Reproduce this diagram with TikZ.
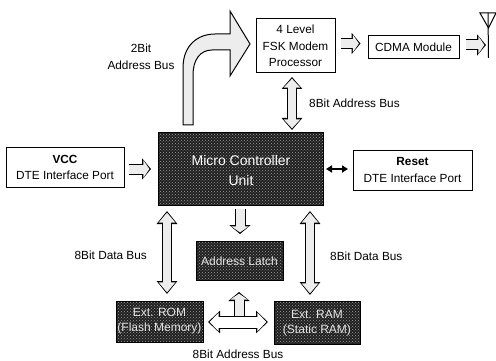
\documentclass[tikz,border=0pt]{standalone}
\usepackage{fontspec}
\setmainfont{Liberation Sans}
\usetikzlibrary{arrows.meta,calc,patterns}
\definecolor{darkbox}{gray}{0.12}
\definecolor{darkdots}{gray}{0.62}
\definecolor{darktext}{gray}{0.9}
\definecolor{arrowfill}{gray}{0.93}
\tikzset{
  x=1pt,y=-1pt,
  lightbox/.style={draw=black,line width=1pt,fill=white,align=center,inner sep=0pt,font=\fontsize{11.8}{16.5}\selectfont},
  darkblock/.style={draw=black,line width=1pt,preaction={fill=darkbox},pattern=crosshatch dots,pattern color=darkdots,align=center,inner sep=0pt},
  darklabel/.style={text=darktext,align=center,inner sep=0pt,font=\fontsize{12}{15}\selectfont},
  lab/.style={align=center,inner sep=0pt,font=\fontsize{11.8}{17}\selectfont},
  blockwide/.style={line cap=butt,line join=round,
    -{Triangle[length=9pt,width=21pt]},draw=black,line width=11pt,
    postaction={draw=arrowfill,line width=9pt,shorten >=1.6pt,-{Triangle[length=6pt,width=17pt]}}},
  blocktwo/.style 2 args={line cap=butt,
    {Triangle[length=#1,width=20pt]}-{Triangle[length=#1,width=20pt]},draw=black,line width=10pt,
    postaction={draw=arrowfill,line width=8pt,shorten >=1.6pt,shorten <=1.6pt,
    {Triangle[length=#2,width=16pt]}-{Triangle[length=#2,width=16pt]}}},
  blockflat/.style={line cap=butt,
    {Triangle[length=12pt,width=22pt]}-{Triangle[length=12pt,width=22pt]},draw=black,line width=13pt,
    postaction={draw=white,line width=11pt,shorten >=1.6pt,shorten <=1.6pt,
    {Triangle[length=9pt,width=18pt]}-{Triangle[length=9pt,width=18pt]}}},
  smallarrow/.style={{Triangle[length=6pt,width=7pt]}-{Triangle[length=6pt,width=7pt]},line width=1.6pt,draw=black},
  antenna/.style={draw=black,line width=1pt},
  bentarrow/.style={draw=black,line width=1pt,line join=miter,fill=arrowfill},
}
\begin{document}
\begin{tikzpicture}
\useasboundingbox (0,0) rectangle (496,361);
% boxes
\node[lightbox,minimum width=118pt,minimum height=40pt] (vcc) at (65,167.5) {\textbf{VCC}\\DTE Interface Port};
\node[lightbox,minimum width=119pt,minimum height=40pt] (reset) at (412.5,170) {\textbf{Reset}\\DTE Interface Port};
\node[lightbox,minimum width=79pt,minimum height=54pt] (modem) at (295.5,46) {4 Level\\FSK Modem\\Processor};
\node[lightbox,minimum width=91pt,minimum height=23pt] (cdma) at (413.5,47.5) {CDMA Module};
\node[darkblock,minimum width=165pt,minimum height=72pt] (mcu) at (240.5,169) {};
\node[darklabel,text=white,font=\fontsize{14}{20}\selectfont] (mcut) at (241,170) {Micro Controller\\Unit};
\node[darkblock,minimum width=87pt,minimum height=39pt] (latch) at (239.5,261) {};
\node[darklabel] (latcht) at (239.5,261.5) {Address Latch};
\node[darkblock,minimum width=87pt,minimum height=41pt] (rom) at (159.5,321.5) {};
\node[darklabel] (romt) at (159.5,321.5) {Ext. ROM\\(Flash Memory)};
\node[darkblock,minimum width=86pt,minimum height=43pt] (ram) at (317,323) {};
\node[darklabel] (ramt) at (317,323) {Ext. RAM\\(Static RAM)};
% labels
\node[lab] (l2bit) at (141,56.5) {2Bit\\Address Bus};
\node[lab,anchor=west] (l8a) at (309,103) {8Bit Address Bus};
\node[lab,anchor=east] (l8l) at (147,255) {8Bit Data Bus};
\node[lab,anchor=west] (l8r) at (330,256) {8Bit Data Bus};
\node[lab] (l8b) at (238,354) {8Bit Address Bus};
% free ends of connectors
\coordinate (v1) at (129,169);
\coordinate (v2) at (151,169);
\coordinate (m1) at ($(modem.east)+(5,-2.5)$);
\coordinate (c1) at ($(cdma.west)+(-7,-4)$);
\coordinate (c2) at ($(cdma.east)+(6,-2.5)$);
\coordinate (c3) at (486,45);
\coordinate (mm1) at (292,77);
\coordinate (mm2) at (292,130);
\coordinate (l1) at (240,209);
\coordinate (l2) at (240,234);
\coordinate (r1) at (167,211);
\coordinate (r2) at (167,294);
\coordinate (s1) at (310,211);
\coordinate (s2) at (310,295);
\coordinate (b1) at (208,322);
\coordinate (b2) at (268,322);
\coordinate (u1) at (239,317);
\coordinate (u2) at (239,292);
\coordinate (sa1) at (326,169);
\coordinate (sa2) at (348,169);
% antenna
\coordinate (t1) at (480,13);
\coordinate (t2) at (496,13);
\coordinate (t3) at (488.5,28);
\coordinate (t4) at (488.5,58);
\draw[antenna] (t1) -- (t2) -- (t3) -- cycle;
\draw[antenna] ($(t1)!0.5!(t2)$) -- (t4);
% connectors
\draw[bentarrow] (183,125) -- (183,68) .. controls (183,45) and (198,34) .. (215,34)
  -- (230,34) -- (230,11) -- (250,44) -- (230,76) -- (230,50) -- (212,50)
  .. controls (200,50) and (193,60) .. (193,75) -- (193,125) -- cycle;
\draw[blockwide] (v1) -- (v2);
\draw[blockwide] (m1) -- (c1);
\draw[blockwide] (c2) -- (c3);
\draw[blocktwo={12pt}{9pt}] (mm1) -- (mm2);
\draw[smallarrow] (sa1) -- (sa2);
\draw[blockwide] (l1) -- (l2);
\draw[blocktwo={13pt}{10pt}] (r1) -- (r2);
\draw[blocktwo={13pt}{10pt}] (s1) -- (s2);
\draw[blockwide] (u1) -- (u2);
\draw[blockflat] (b1) -- (b2);
\end{tikzpicture}
\end{document}
